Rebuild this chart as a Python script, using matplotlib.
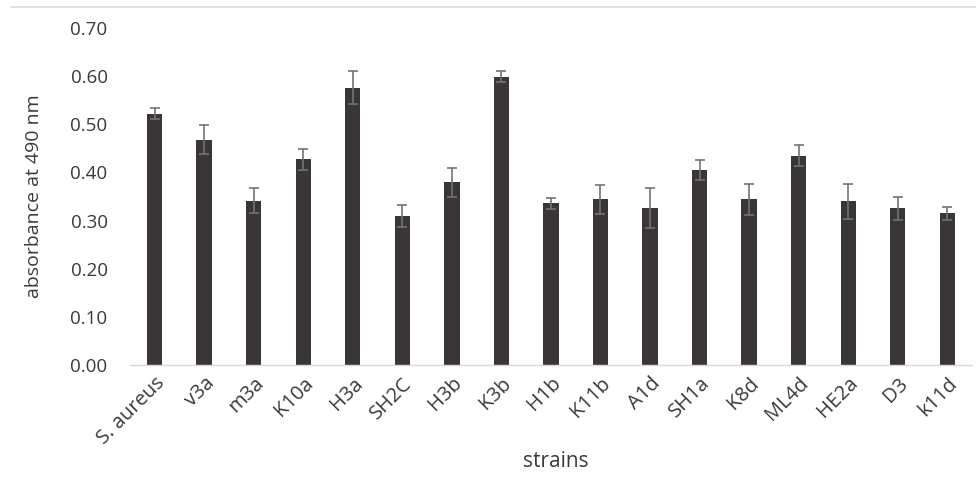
import numpy as np
import matplotlib.pyplot as plt
from matplotlib.lines import Line2D

strains = ["S. aureus", "v3a", "m3a", "K10a", "H3a", "SH2C", "H3b", "K3b", "H1b",
           "K11b", "A1d", "SH1a", "K8d", "ML4d", "HE2a", "D3", "k11d"]
absorbance = [0.522, 0.468, 0.341, 0.427, 0.576, 0.309, 0.380, 0.599, 0.336,
              0.344, 0.326, 0.405, 0.344, 0.435, 0.340, 0.326, 0.315]
err = [0.011, 0.030, 0.026, 0.022, 0.034, 0.023, 0.030, 0.011, 0.012,
       0.031, 0.042, 0.021, 0.033, 0.022, 0.036, 0.024, 0.013]

plt.rcParams['font.family'] = ['Open Sans', 'DejaVu Sans']
txt = '#3a3a3a'

fig = plt.figure(figsize=(9.76, 4.92), dpi=100)
ax = fig.add_axes([0.133, 0.258, 0.863, 0.685])

x = np.arange(len(strains))
ax.bar(x, absorbance, width=0.31, color='#3a3536', zorder=2)
ax.errorbar(x, absorbance, yerr=err, fmt='none', ecolor='#737373',
            elinewidth=1.2, capsize=3.5, capthick=1.2, zorder=3)

ax.set_xlim(-0.5, len(strains) - 0.5)
ax.set_ylim(0, 0.70)
ticks = np.arange(0, 0.71, 0.1)
ax.set_yticks(ticks)
ax.set_yticklabels([f"{v:.2f}" for v in ticks], fontsize=13.5)
ax.set_xticks(x)
ax.set_xticklabels(strains, rotation=45, ha='right', rotation_mode='anchor', fontsize=14.5)

for s in ['top', 'right', 'left']:
    ax.spines[s].set_visible(False)
ax.spines['bottom'].set_color('#d9d9d9')
ax.spines['bottom'].set_linewidth(1.0)
ax.tick_params(axis='both', length=0, colors=txt)
ax.tick_params(axis='y', pad=16)
ax.tick_params(axis='x', pad=6)

ax.set_ylabel("absorbance at 490 nm", fontsize=14, color=txt)
ax.yaxis.set_label_coords(-0.103, 0.5)
fig.text(0.569, 0.061, "strains", ha='center', va='center', fontsize=15, color=txt)

fig.add_artist(Line2D([0.011, 1.0], [0.986, 0.986], color='#dcdcdc', lw=1.2,
                      transform=fig.transFigure))

fig.savefig("out.png", dpi=100)
